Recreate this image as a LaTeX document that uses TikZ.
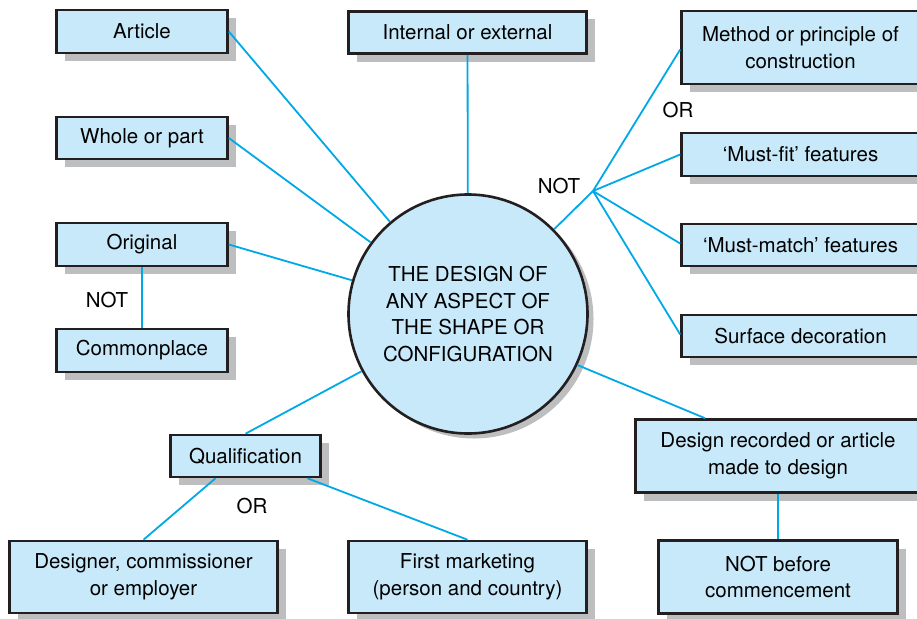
\documentclass[tikz,border=0pt]{standalone}
\usepackage{fontspec}
\setmainfont{TeX Gyre Heros}
\usetikzlibrary{shadows}
\definecolor{boxfill}{HTML}{C8E9F9}
\definecolor{boxline}{HTML}{231F20}
\definecolor{shade}{HTML}{BCBEC0}
\definecolor{link}{HTML}{00A9E6}
\begin{document}
\begin{tikzpicture}[x=1pt,y=-1pt,
     box/.style = {draw=boxline, line width=2.6pt, fill=boxfill, rectangle, inner sep=0pt,
      align=center, font=\fontsize{20.5}{26.5}\selectfont,
      drop shadow={shadow xshift=8pt, shadow yshift=-8pt, fill=shade, opacity=1}},
     hub/.style = {draw=boxline, line width=2.6pt, fill=boxfill, circle, inner sep=0pt,
      minimum size=239pt, align=center, font=\fontsize{20.5}{26.5}\selectfont,
      drop shadow={shadow xshift=6pt, shadow yshift=-5pt, fill=shade, opacity=1}},
     word/.style = {inner sep=0pt, font=\fontsize{20.5}{26.5}\selectfont},
     link/.style = {draw=link, line width=1.8pt}
    ]
    \useasboundingbox (0,0) rectangle (917,618);

    \coordinate (fork) at (593,191);
    \coordinate (centrept) at (468,314);

    \node [box, minimum width=171pt, minimum height=43pt] (article) at (142,31.5) {Article};
    \node [box, minimum width=238pt, minimum height=42pt] (internal) at (467.5,32.5) {Internal or external};
    \node [box, minimum width=238pt, minimum height=73pt] (method) at (800.5,47.5) {Method or principle of\\construction};
    \node [box, minimum width=171pt, minimum height=42pt] (whole) at (142,138) {Whole or part};
    \node [box, minimum width=238pt, minimum height=43pt] (mustfit) at (800.5,154.5) {`Must-fit' features};
    \node [box, minimum width=171pt, minimum height=43pt] (original) at (142,244.5) {Original};
    \node [box, minimum width=238pt, minimum height=42pt] (mustmatch) at (800.5,245) {`Must-match' features};
    \node [box, minimum width=171pt, minimum height=43pt] (common) at (142,350.5) {Commonplace};
    \node [box, minimum width=238pt, minimum height=42pt] (surface) at (800.5,336) {Surface decoration};
    \node [box, minimum width=150pt, minimum height=42pt] (qual) at (245.5,456) {Qualification};
    \node [box, minimum width=285pt, minimum height=73pt] (recorded) at (778,456) {Design recorded or article\\made to design};
    \node [box, minimum width=239pt, minimum height=73pt] (before) at (778,577) {NOT before\\commencement};
    \node [box, minimum width=268pt, minimum height=72pt] (designer) at (143.5,577) {Designer, commissioner\\or employer};
    \node [box, minimum width=238pt, minimum height=72pt] (marketing) at (467.5,577) {First marketing\\(person and country)};
    \node [hub] (centre) at (centrept) {THE DESIGN OF\\ANY ASPECT OF\\THE SHAPE OR\\CONFIGURATION};

    \draw[link] (article.east) -- (centre);
    \draw[link] (whole.east) -- (centre);
    \draw[link] (original.east) -- (centre);
    \draw[link] (internal) -- (centre);
    \draw[link] (original) -- (common);
    \draw[link] (centre) -- (fork);
    \draw[link] (fork) -- ([yshift=-2pt]method.west);
    \draw[link] (fork) -- (mustfit.west);
    \draw[link] (fork) -- ([yshift=1.5pt]mustmatch.west);
    \draw[link] (fork) -- ([yshift=1.5pt]surface.west);
    \draw[link] (centre.-25) -- ([xshift=-73pt]recorded.north);
    \draw[link] (recorded) -- (before);
    \draw[link] (qual.north) -- (centre);
    \draw[link] ([xshift=-30pt]qual.south) -- (designer.north);
    \draw[link] ([xshift=62pt]qual.south) -- (marketing.north);

    \node [word] (not1) at (107,300) {NOT};
    \node [word] (or1) at (678,110) {OR};
    \node [word] (not2) at (559,186) {NOT};
    \node [word] (or2) at (252,506) {OR};
\end{tikzpicture}
\end{document}
